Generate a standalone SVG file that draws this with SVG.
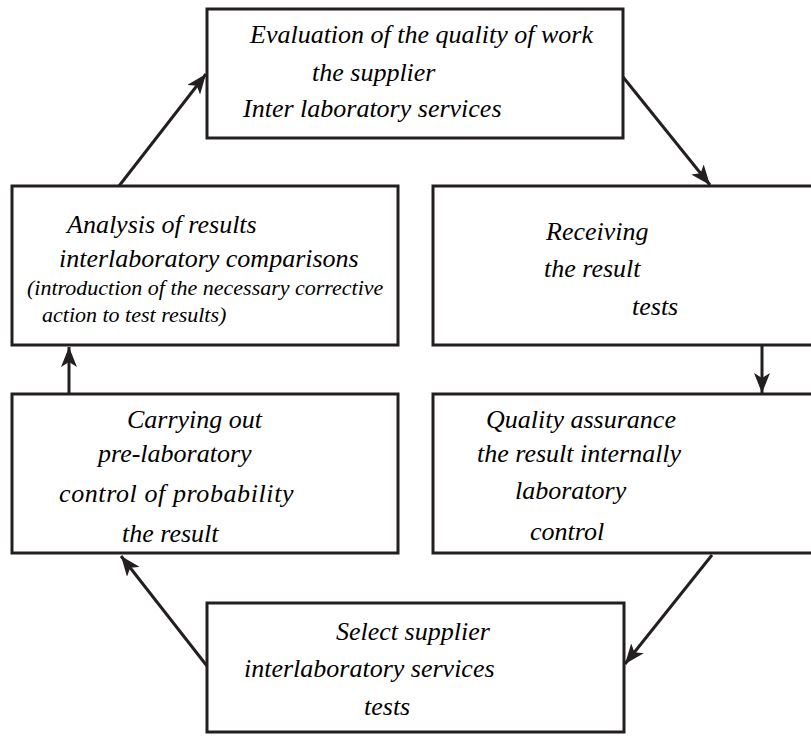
<svg xmlns="http://www.w3.org/2000/svg" width="811" height="751" viewBox="0 0 811 751">
<defs>
<marker id="ah" markerWidth="20" markerHeight="16" refX="20" refY="8" orient="auto" markerUnits="userSpaceOnUse" viewBox="0 0 20 16">
<path d="M0,0 L20,8 L0,16 L5,8 Z" fill="#231f20"/>
</marker>
</defs>
<rect width="811" height="751" fill="#fff"/>
<g id="n1">
<rect fill="#fff" stroke="#231f20" stroke-width="3" x="207" y="9" width="416" height="129"/>
<text font-family="Liberation Serif" font-style="italic" font-size="26" x="250" y="43">Evaluation of the quality of work</text>
<text font-family="Liberation Serif" font-style="italic" font-size="26" x="312" y="81">the supplier</text>
<text font-family="Liberation Serif" font-style="italic" font-size="26" x="243" y="117">Inter laboratory services</text>
</g>
<g id="n2">
<rect fill="#fff" stroke="#231f20" stroke-width="3" x="433" y="186" width="380" height="159"/>
<text font-family="Liberation Serif" font-style="italic" font-size="26" x="546" y="240">Receiving</text>
<text font-family="Liberation Serif" font-style="italic" font-size="26" x="544" y="277">the result</text>
<text font-family="Liberation Serif" font-style="italic" font-size="26" x="632" y="315">tests</text>
</g>
<g id="n3">
<rect fill="#fff" stroke="#231f20" stroke-width="3" x="433" y="394" width="380" height="159"/>
<text font-family="Liberation Serif" font-style="italic" font-size="26" x="486" y="428">Quality assurance</text>
<text font-family="Liberation Serif" font-style="italic" font-size="26" x="477" y="462">the result internally</text>
<text font-family="Liberation Serif" font-style="italic" font-size="26" x="515" y="499">laboratory</text>
<text font-family="Liberation Serif" font-style="italic" font-size="26" x="530" y="540">control</text>
</g>
<g id="n4">
<rect fill="#fff" stroke="#231f20" stroke-width="3" x="207" y="603" width="417" height="129"/>
<text font-family="Liberation Serif" font-style="italic" font-size="26" x="336" y="640">Select supplier</text>
<text font-family="Liberation Serif" font-style="italic" font-size="26" x="244" y="677">interlaboratory services</text>
<text font-family="Liberation Serif" font-style="italic" font-size="26" x="364" y="715">tests</text>
</g>
<g id="n5">
<rect fill="#fff" stroke="#231f20" stroke-width="3" x="12" y="394" width="386" height="159"/>
<text font-family="Liberation Serif" font-style="italic" font-size="26" x="127" y="428">Carrying out</text>
<text font-family="Liberation Serif" font-style="italic" font-size="26" x="98" y="462">pre-laboratory</text>
<text font-family="Liberation Serif" font-style="italic" font-size="26" letter-spacing="0.6" x="59" y="502">control of probability</text>
<text font-family="Liberation Serif" font-style="italic" font-size="26" x="122" y="542">the result</text>
</g>
<g id="n6">
<rect fill="#fff" stroke="#231f20" stroke-width="3" x="12" y="186" width="386" height="159"/>
<text font-family="Liberation Serif" font-style="italic" font-size="26" x="67" y="233">Analysis of results</text>
<text font-family="Liberation Serif" font-style="italic" font-size="26" x="59" y="267">interlaboratory comparisons</text>
<text font-family="Liberation Serif" font-style="italic" font-size="22" x="27" y="295">(introduction of the necessary corrective</text>
<text font-family="Liberation Serif" font-style="italic" font-size="22" x="42" y="322">action to test results)</text>
</g>
<g id="connectors" stroke="#231f20" stroke-width="3" fill="none">
<line x1="119" y1="186" x2="206" y2="74" marker-end="url(#ah)"/>
<line x1="623" y1="77" x2="710" y2="185" marker-end="url(#ah)"/>
<line x1="762" y1="345" x2="762" y2="393" marker-end="url(#ah)"/>
<line x1="712" y1="555" x2="625" y2="664" marker-end="url(#ah)"/>
<line x1="207" y1="666" x2="121" y2="556" marker-end="url(#ah)"/>
<line x1="69" y1="394" x2="69" y2="347" marker-end="url(#ah)"/>
</g>
</svg>
